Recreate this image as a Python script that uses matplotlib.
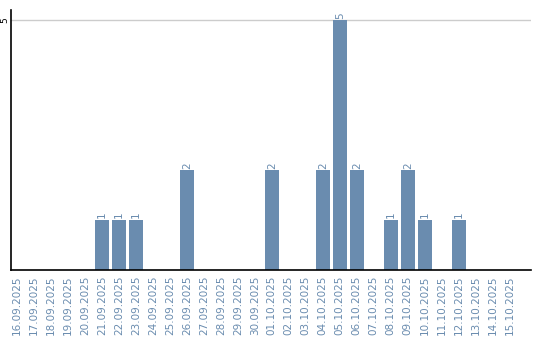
import matplotlib
matplotlib.use("Agg")
import matplotlib.pyplot as plt
import numpy as np

dates = ["16.09.2025", "17.09.2025", "18.09.2025", "19.09.2025", "20.09.2025",
         "21.09.2025", "22.09.2025", "23.09.2025", "24.09.2025", "25.09.2025",
         "26.09.2025", "27.09.2025", "28.09.2025", "29.09.2025", "30.09.2025",
         "01.10.2025", "02.10.2025", "03.10.2025", "04.10.2025", "05.10.2025",
         "06.10.2025", "07.10.2025", "08.10.2025", "09.10.2025", "10.10.2025",
         "11.10.2025", "12.10.2025", "13.10.2025", "14.10.2025", "15.10.2025"]
counts = [0, 0, 0, 0, 0, 1, 1, 1, 0, 0, 2, 0, 0, 0, 0,
          2, 0, 0, 2, 5, 2, 0, 1, 2, 1, 0, 1, 0, 0, 0]

bar_color = "#6a8caf"
text_color = "#6a8caf"

fig = plt.figure(figsize=(5.4, 3.4), dpi=100)
ax = fig.add_axes([11/540, 70/340, 520/540, 260/340])
x = np.arange(len(dates))
ax.bar(x, counts, width=0.8, color=bar_color, zorder=2)
for xi, c in zip(x, counts):
    if c > 0:
        ax.text(xi, c + 0.03, str(c), rotation=90, ha="center", va="bottom",
                fontsize=7.5, color=text_color)

ax.set_xlim(-0.35, 30.25)
ax.set_ylim(0, 5.2)
ax.set_yticks([5])
ax.set_yticklabels(["5"], rotation=90, va="center", fontsize=6.5)
ax.axhline(5, color="#cccccc", linewidth=1, zorder=1)
ax.set_xticks(x)
ax.set_xticklabels(dates, rotation=90, fontsize=7.5, color=text_color)
ax.tick_params(axis="x", length=0, pad=4)
ax.tick_params(axis="y", length=0, pad=1)
for s in ["top", "right"]:
    ax.spines[s].set_visible(False)
ax.spines["left"].set_linewidth(1.2)
ax.spines["bottom"].set_linewidth(1.2)

fig.savefig("out.png", dpi=100)
